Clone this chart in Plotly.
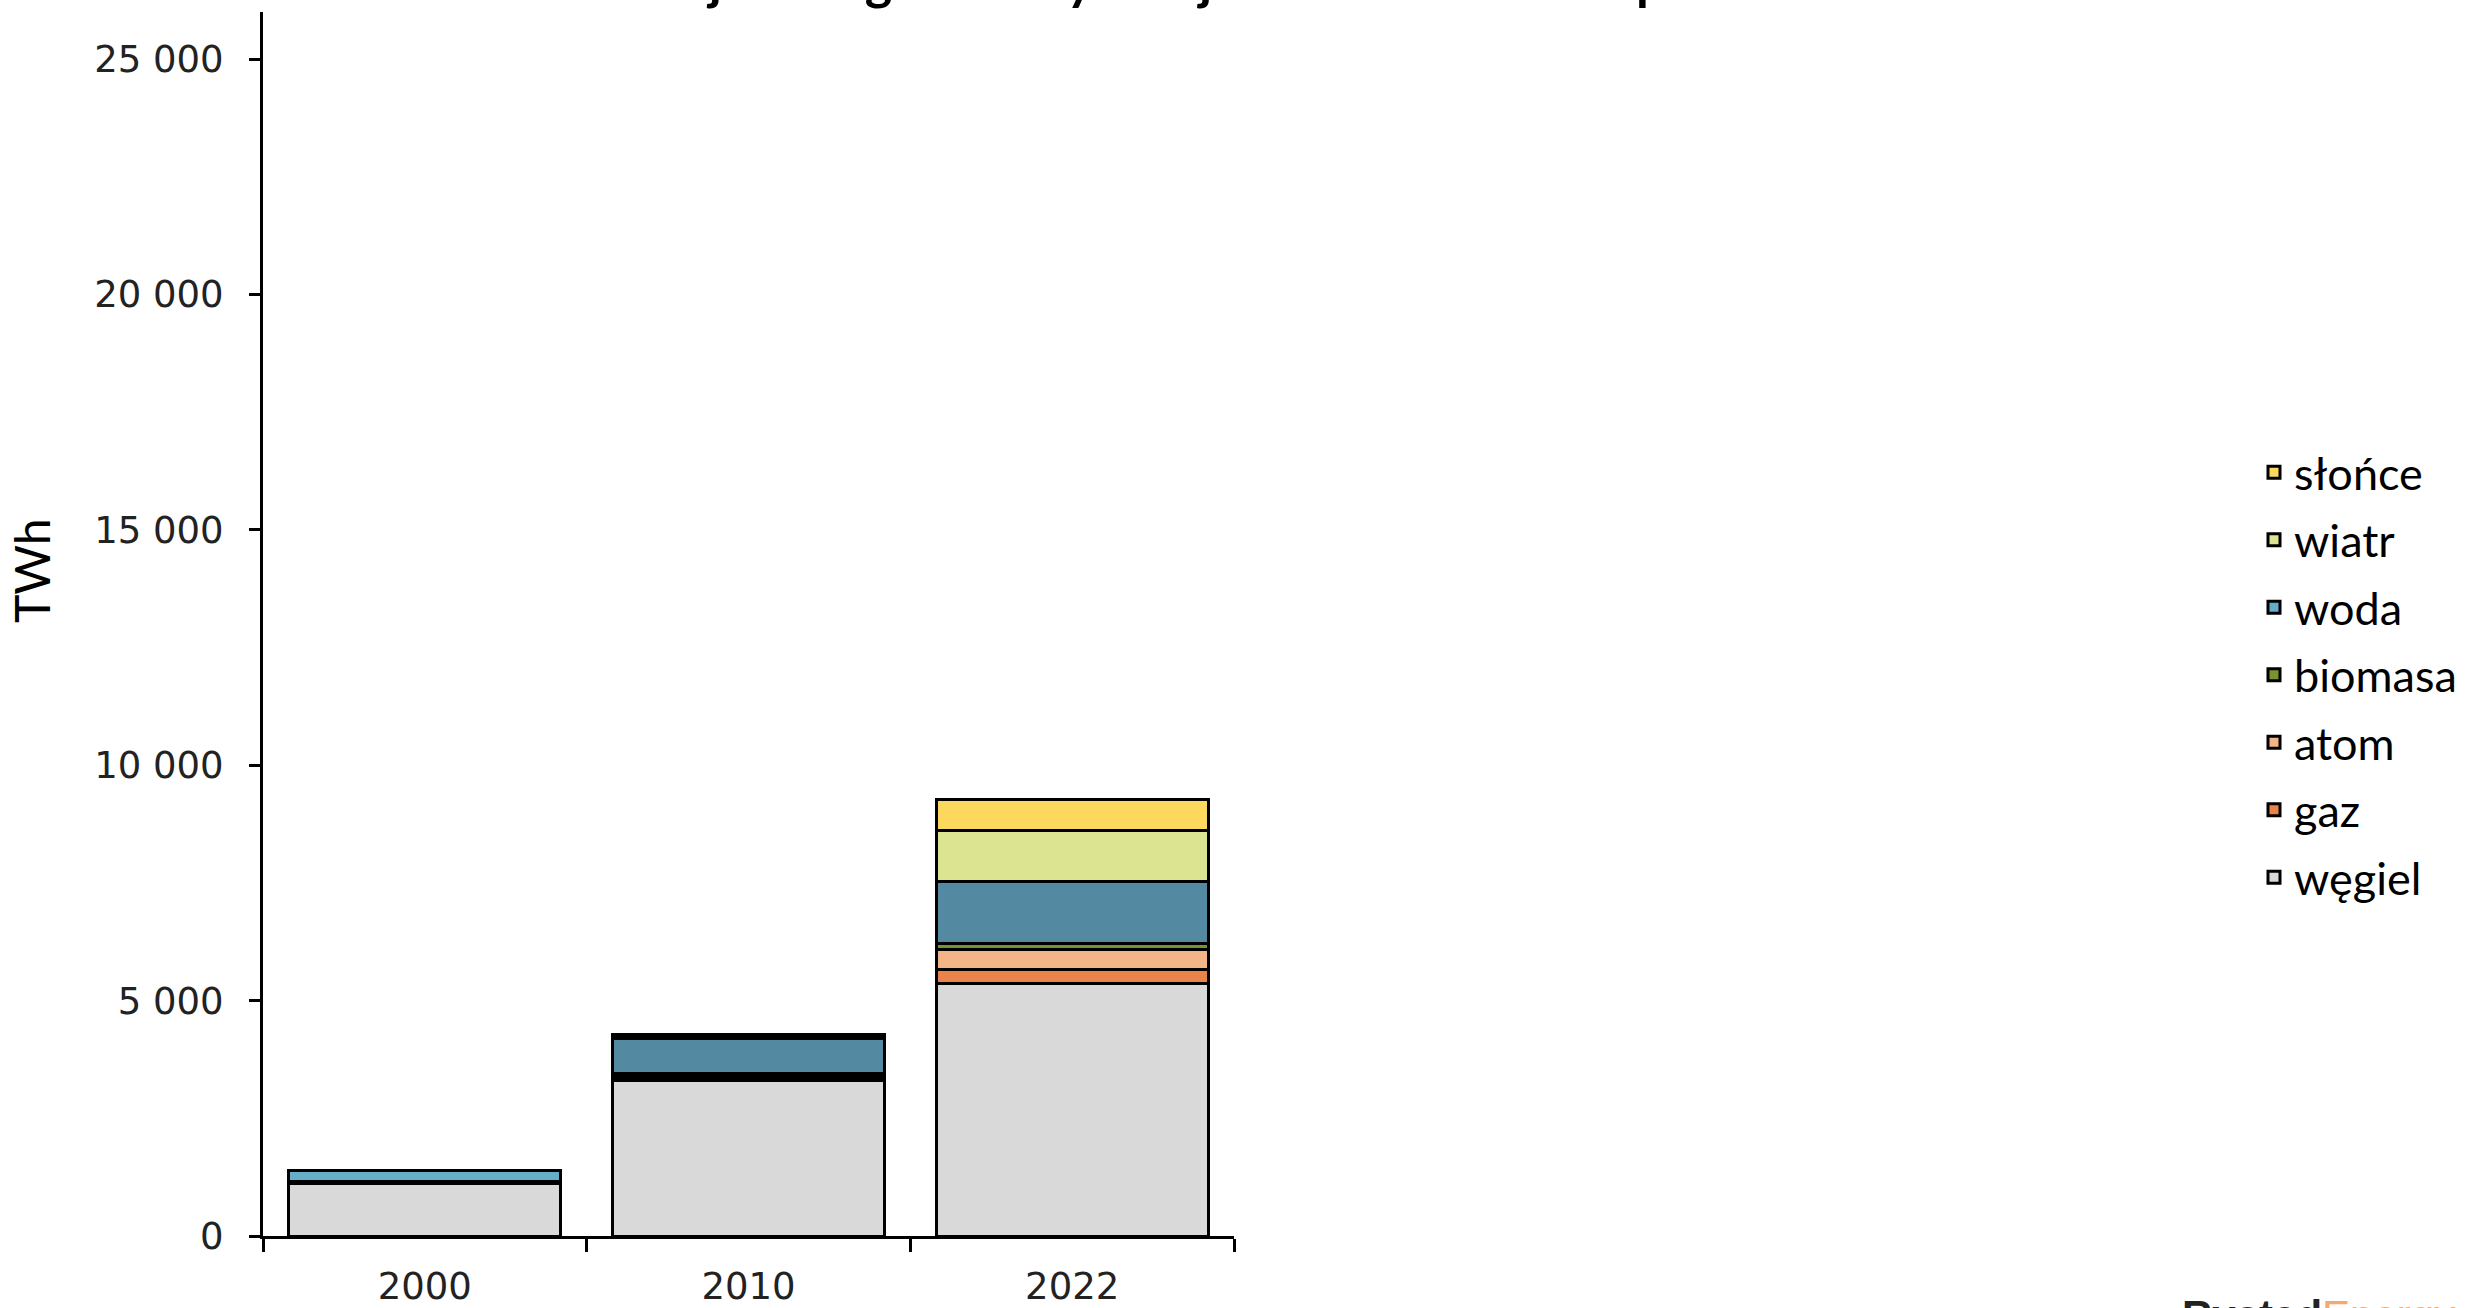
import plotly.graph_objects as go

# ---- data (TWh) ----
years = ["2000", "2010", "2022"]
wegiel = [1110, 3295, 5374]
gaz = [25, 65, 297]
atom = [20, 65, 425]
biomasa = [5, 35, 121]
woda = [230, 725, 1308]
wiatr = [10, 75, 1083]
slonce = [2, 10, 673]

series_names = ["węgiel", "gaz", "atom", "biomasa", "woda", "wiatr", "słońce"]
series_values = [wegiel, gaz, atom, biomasa, woda, wiatr, slonce]
series_colors = [
    "#d9d9d9",
    "#e8844a",
    "#f3b487",
    "#77952c",
    ["#66adc8", "#548aa1", "#548aa1"],
    "#dde491",
    "#fcd95e",
]

y_tick_vals = [0, 5000, 10000, 15000, 20000, 25000]
y_tick_text = ["0", "5 000", "10 000", "15 000", "20 000", "25 000"]

title_text = "Produkcja energii elektrycznej w Chinach wraz z podziałem na źródła"
y_title = "TWh"

# ---- figure ----
W, H = 2481, 1308
ML, MR, MT, MB = 263, 0, 12, 72
PW = W - ML - MR
PH = H - MT - MB


def px_x(px):
    return (px - ML) / PW


def px_y(py):
    return (H - MB - py) / PH


fig = go.Figure()
n = len(series_names)
for i, (name, vals, col) in enumerate(zip(series_names, series_values, series_colors)):
    fig.add_trace(
        go.Bar(
            x=years,
            y=vals,
            name=name,
            legendgroup=name,
            legendrank=n - i,
            marker=dict(color=col, line=dict(color="black", width=3)),
        )
    )

fig.update_layout(
    width=W,
    height=H,
    barmode="stack",
    bargap=0.16,
    margin=dict(l=ML, r=MR, t=MT, b=MB),
    plot_bgcolor="white",
    paper_bgcolor="white",
    font=dict(family="Lato", color="black"),
    showlegend=True,
    xaxis=dict(
        domain=[0, (1234 - ML) / PW],
        type="category",
        showline=True,
        linecolor="black",
        linewidth=2.5,
        ticks="outside",
        tickson="boundaries",
        ticklen=13,
        tickwidth=2.5,
        tickcolor="black",
        showgrid=False,
        tickfont=dict(family="DejaVu Sans", size=37, color="#222222"),
        ticklabelstandoff=16,
    ),
    yaxis=dict(
        range=[0, 26000],
        tickvals=y_tick_vals,
        ticktext=y_tick_text,
        showline=True,
        linecolor="black",
        linewidth=3,
        ticks="outside",
        ticklen=11,
        tickwidth=2.5,
        tickcolor="black",
        showgrid=False,
        zeroline=False,
        tickfont=dict(family="DejaVu Sans", size=37, color="#222222"),
        ticklabelstandoff=18,
    ),
    legend=dict(
        x=px_x(2254),
        xanchor="left",
        y=px_y(675),
        yanchor="middle",
        traceorder="grouped",
        tracegroupgap=6,
        font=dict(family="Lato", size=45, color="black"),
        bgcolor="rgba(0,0,0,0)",
    ),
)

annotations = [
    dict(
        text="<b>" + title_text + "</b>",
        xref="paper",
        yref="paper",
        x=px_x(516),
        y=px_y(12),
        xanchor="left",
        yanchor="bottom",
        showarrow=False,
        font=dict(family="Lato", size=52, color="black"),
    ),
    dict(
        text=y_title,
        xref="paper",
        yref="paper",
        x=px_x(31),
        y=px_y(571),
        xanchor="center",
        yanchor="middle",
        textangle=-90,
        showarrow=False,
        font=dict(family="Lato", size=48, color="black"),
    ),
    dict(
        text="<b>Rystad</b><span style='color:#f2aa70'>Energy</span>",
        xref="paper",
        yref="paper",
        x=px_x(2180),
        y=px_y(1290),
        xanchor="left",
        yanchor="top",
        showarrow=False,
        font=dict(family="Liberation Sans", size=42, color="#222222"),
    ),
]
fig.update_layout(annotations=annotations)

fig.write_html("out.html")
